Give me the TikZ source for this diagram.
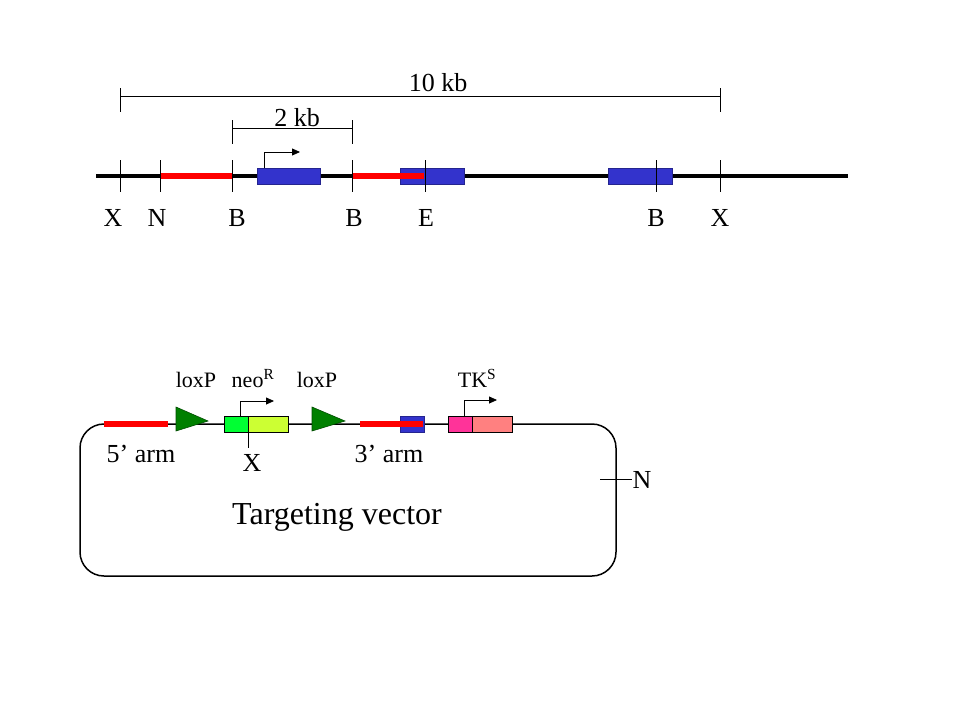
\documentclass[tikz,border=0pt]{standalone}
\usepackage{fontspec}
\setmainfont{Liberation Serif}
\usetikzlibrary{arrows.meta}
\definecolor{exonblue}{HTML}{3333CC}
\definecolor{armred}{HTML}{FF0000}
\definecolor{loxgreen}{HTML}{008000}
\definecolor{neoA}{HTML}{00FF33}
\definecolor{neoB}{HTML}{CCFF33}
\definecolor{tkA}{HTML}{FF3399}
\definecolor{tkB}{HTML}{FF8080}
\begin{document}
\begin{tikzpicture}[x=1pt,y=-1pt,
  lbl/.style={font=\fontsize{26}{30}\selectfont, anchor=base, inner sep=0pt},
  sml/.style={font=\fontsize{22}{26}\selectfont, anchor=base, inner sep=0pt},
  big/.style={font=\fontsize{32}{38}\selectfont, anchor=base, inner sep=0pt},
  thin/.style={line width=0.8pt},
  exon/.style={fill=exonblue, draw=exonblue!70!black, line width=0.6pt},
  arm/.style={draw=armred, line width=5.5pt},
  lox/.style={fill=loxgreen, draw=loxgreen!60!black, line width=0.6pt},
  promo/.style={line width=0.8pt, -{Triangle[length=8pt,width=7pt]}},
  cass/.style={draw=black, line width=0.6pt}
]
\useasboundingbox (0,0) rectangle (960,720);

% ---------- genomic locus ----------
\draw[line width=4.5pt] (96,176) -- (848,176);
\draw[exon] (257,168) rectangle (320,184);
\draw[exon] (400,168) rectangle (464,184);
\draw[exon] (608,168) rectangle (672,184);
\draw[arm] (160,176) -- (232,176);
\draw[arm] (352,176) -- (424,176);
\foreach \x in {120,160,232,352,425,656,720}
  \draw[thin] (\x,160) -- (\x,192);
\draw[promo] (264,168) -- (264,152) -- (300,152);

% scale bars
\draw[thin] (120,88) -- (120,112);
\draw[thin] (720,88) -- (720,112);
\draw[thin] (120,96) -- (720,96);
\draw[thin] (232,120) -- (232,144);
\draw[thin] (352,120) -- (352,144);
\draw[thin] (232,128) -- (352,128);
\node[lbl] (kb10) at (438,91) {10 kb};
\node[lbl] (kb2) at (297,126) {2 kb};

% site labels
\node[lbl] (sX1) at (113,226) {X};
\node[lbl] (sN) at (157,226) {N};
\node[lbl] (sB1) at (237,226) {B};
\node[lbl] (sB2) at (354,226) {B};
\node[lbl] (sE) at (426,226) {E};
\node[lbl] (sB3) at (656,226) {B};
\node[lbl] (sX2) at (720,226) {X};

% ---------- targeting vector ----------
\draw[line width=1.5pt, rounded corners=24pt] (80,424) rectangle (616,576);
\draw[arm] (104,424) -- (168,424);
\draw[lox] (176,407) -- (176,431) -- (208,421) -- cycle;
\draw[lox] (312,407) -- (312,431) -- (345,421) -- cycle;
\fill[neoA] (224,416) rectangle (248,432);
\fill[neoB] (248,416) rectangle (288,432);
\draw[cass] (224,416) rectangle (288,432);
\draw[thin] (248,416) -- (248,448);
\draw[promo] (240,416) -- (240,401) -- (274,401);
\draw[exon] (400,416) rectangle (424,432);
\draw[arm] (360,424) -- (423,424);
\fill[tkA] (448,416) rectangle (472,432);
\fill[tkB] (472,416) rectangle (512,432);
\draw[cass] (448,416) rectangle (512,432);
\draw[cass] (472,416) -- (472,432);
\draw[promo] (464,416) -- (464,400) -- (497,400);
\draw[thin] (600,479) -- (632,479);

\node[sml] (lox1) at (196,387) {loxP};
\node[sml] (neo) at (253,387) {neo\textsuperscript{R}};
\node[sml] (lox2) at (317,387) {loxP};
\node[sml] (tk) at (477,387) {TK\textsuperscript{S}};
\node[lbl] (arm5) at (141,462) {5’ arm};
\node[lbl] (vX) at (252,471) {X};
\node[lbl] (arm3) at (389,462) {3’ arm};
\node[lbl] (vN) at (642,488) {N};
\node[big] (tv) at (337,524) {Targeting vector};
\end{tikzpicture}
\end{document}
